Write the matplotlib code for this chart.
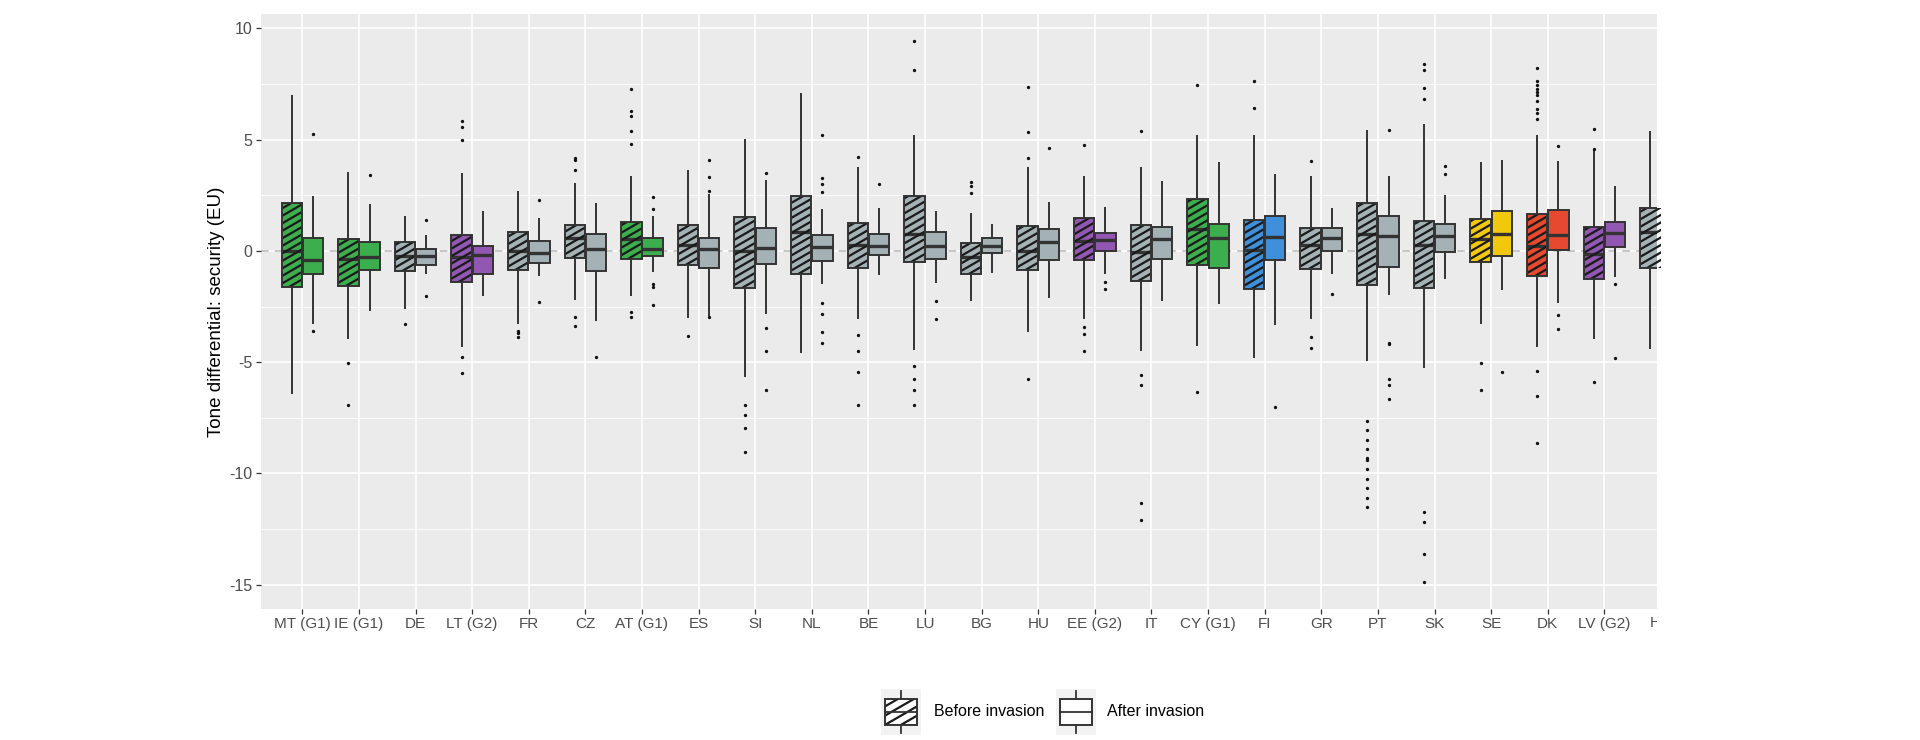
import numpy as np
import matplotlib
matplotlib.use("Agg")
import matplotlib.pyplot as plt
from matplotlib.patches import Rectangle
from matplotlib.collections import LineCollection
from matplotlib.transforms import Bbox, TransformedBbox, blended_transform_factory

plt.rcParams["font.family"] = ["Liberation Sans", "DejaVu Sans"]
plt.rcParams["axes.unicode_minus"] = False

# ---------------- data ----------------
countries = ["MT (G1)", "IE (G1)", "DE", "LT (G2)", "FR", "CZ", "AT (G1)", "ES", "SI", "NL",
             "BE", "LU", "BG", "HU", "EE (G2)", "IT", "CY (G1)", "FI", "GR", "PT",
             "SK", "SE", "DK", "LV (G2)", "HR"]
groups = ["G1", "G1", "other", "G2", "other", "other", "G1", "other", "other", "other",
          "other", "other", "other", "other", "G2", "other", "G1", "FI", "other", "other",
          "other", "SE", "DK", "G2", "other"]

# before invasion: whisker low, Q1, median, Q3, whisker high
before_lo = [-6.41, -3.96, -2.63, -4.32, -3.30, -2.20, -2.02, -3.00, -5.67, -4.58,
             -3.06, -4.46, -2.24, -3.66, -3.06, -4.51, -4.28, -4.83, -3.07, -4.94,
             -5.26, -3.27, -4.33, -3.96, -4.40]
before_q1 = [-1.62, -1.58, -0.90, -1.39, -0.85, -0.30, -0.34, -0.64, -1.67, -1.03,
             -0.75, -0.48, -1.05, -0.87, -0.41, -1.35, -0.64, -1.71, -0.83, -1.53,
             -1.65, -0.50, -1.14, -1.25, -0.75]
before_med = [0.00, -0.37, -0.23, -0.25, 0.00, 0.57, 0.52, 0.25, 0.00, 0.85,
              0.25, 0.78, -0.28, 0.00, 0.43, -0.04, 0.99, 0.04, 0.25, 0.78,
              0.25, 0.55, 0.21, -0.15, 0.86]
before_q3 = [2.15, 0.53, 0.41, 0.73, 0.87, 1.17, 1.30, 1.17, 1.53, 2.45,
             1.26, 2.49, 0.34, 1.14, 1.46, 1.17, 2.33, 1.40, 1.05, 2.15,
             1.35, 1.44, 1.67, 1.10, 1.91]
before_hi = [7.03, 3.57, 1.56, 3.52, 2.68, 3.05, 3.39, 3.66, 5.01, 7.12,
             3.77, 5.22, 1.71, 3.77, 3.37, 3.77, 5.20, 5.22, 3.36, 5.44,
             5.72, 4.00, 5.22, 4.53, 5.39]
before_out = [
    [],
    [-5.04, -6.91],
    [-3.30],
    [5.84, 5.58, 4.99, -4.78, -5.49],
    [-3.59, -3.69, -3.85],
    [4.19, 4.07, 3.62, -2.95, -3.39],
    [7.28, 6.29, 6.06, 5.40, 4.81, -2.74, -2.95],
    [-3.80],
    [-6.94, -7.39, -7.94, -9.02],
    [],
    [4.21, -3.78, -4.48, -5.44, -6.94],
    [9.43, 8.12, -5.19, -5.75, -6.25, -6.93],
    [3.09, 2.91, 2.59],
    [7.35, 5.35, 4.19, -5.75],
    [4.78, -3.41, -3.73, -4.48],
    [5.38, -5.58, -6.02, -11.33, -12.11],
    [7.44, -6.36],
    [7.62, 6.43],
    [4.03, -3.85, -4.37],
    [-7.62, -8.05, -8.49, -8.90, -9.31, -9.38, -9.82, -10.23, -10.67, -11.08, -11.51],
    [8.42, 8.12, 7.32, 6.82, -11.74, -12.18, -13.64, -14.87],
    [-5.03, -6.23],
    [8.24, 7.66, 7.44, 7.26, 7.14, 7.00, 6.73, 6.38, 6.20, 5.93, -5.40, -6.50, -8.63],
    [5.49, 4.59, -5.90],
    [],
]

# after invasion (HR's box lies outside the visible panel)
after_lo = [-3.30, -2.68, -1.05, -2.02, -1.12, -3.16, -0.96, -2.91, -2.81, -1.49,
            -1.08, -1.42, -0.99, -2.10, -1.03, -2.24, -2.38, -3.34, -1.03, -1.97,
            -1.24, -1.74, -2.33, -1.16, None]
after_q1 = [-1.05, -0.85, -0.64, -1.03, -0.55, -0.92, -0.23, -0.78, -0.59, -0.46,
            -0.16, -0.37, -0.07, -0.41, 0.02, -0.36, -0.78, -0.41, 0.00, -0.73,
            -0.04, -0.23, 0.04, 0.17, None]
after_med = [-0.41, -0.28, -0.23, -0.20, -0.07, 0.07, 0.07, 0.07, 0.14, 0.18,
             0.21, 0.21, 0.23, 0.39, 0.50, 0.53, 0.59, 0.64, 0.60, 0.66,
             0.68, 0.75, 0.71, 0.81, None]
after_q3 = [0.60, 0.41, 0.11, 0.23, 0.43, 0.78, 0.60, 0.60, 1.03, 0.73,
            0.75, 0.87, 0.59, 1.01, 0.83, 1.10, 1.23, 1.56, 1.05, 1.55,
            1.23, 1.79, 1.85, 1.32, None]
after_hi = [2.47, 2.10, 0.73, 1.81, 1.49, 2.17, 1.58, 2.56, 3.18, 1.88,
            1.94, 1.79, 1.23, 2.20, 1.97, 3.16, 4.01, 3.48, 1.95, 3.37,
            2.52, 4.09, 4.03, 2.90, None]
after_out = [
    [5.27, -3.59],
    [3.43],
    [1.37, -2.02],
    [],
    [2.29, -2.29],
    [-4.78],
    [2.43, 1.88, -1.49, -1.62, -2.42],
    [4.10, 3.32, 2.70, -2.95],
    [3.50, -3.45, -4.48, -6.27],
    [5.20, 3.30, 3.00, 2.65, -2.33, -2.82, -3.62, -4.12],
    [3.00],
    [-2.24, -3.04],
    [],
    [4.62],
    [-1.39, -1.71],
    [],
    [],
    [-7.02],
    [-1.95],
    [5.44, -4.12, -4.16, -5.75, -6.02, -6.64],
    [3.80, 3.45],
    [-5.45],
    [4.72, -2.86, -3.52],
    [-1.50, -4.81],
    [],
]

group_colors = {"G1": "#3DAE4E", "G2": "#9157B2", "other": "#A4B2B6",
                "FI": "#3F8FDA", "SE": "#F2C80C", "DK": "#E6492F"}
legend_labels = ["Before invasion", "After invasion"]

# ---------------- layout ----------------
W, H = 1920, 740
fig = plt.figure(figsize=(W / 100, H / 100), dpi=100)
px_l, px_r, px_t, px_b = 261, 1657, 14, 609
ax = fig.add_axes([px_l / W, 1 - px_b / H, (px_r - px_l) / W, (px_b - px_t) / H])
ax.set_facecolor("#EBEBEB")
for s in ax.spines.values():
    s.set_visible(False)

n = len(countries)
pos = np.arange(1, n + 1)
ax.set_xlim(0.27, 24.93)
ax.set_ylim(-16.09, 10.65)

# grid
for y in [-12.5, -7.5, -2.5, 2.5, 7.5]:
    ax.axhline(y, color="white", lw=0.6, zorder=0.5)
for y in [-15, -10, -5, 0, 5, 10]:
    ax.axhline(y, color="white", lw=1.2, zorder=0.6)
for x in pos:
    ax.axvline(x, color="white", lw=1.2, zorder=0.6)
ax.axhline(0, color="#B8B8B8", lw=1.1, ls=(0, (5, 4)), zorder=1)

ax.set_yticks([-15, -10, -5, 0, 5, 10])
ax.set_yticklabels(["-15", "-10", "-5", "0", "5", "10"])
ax.set_xticks(pos[:-1])
ax.set_xticklabels(countries[:-1])
ax.tick_params(axis="both", length=3.5, width=0.9, color="#333333",
               labelcolor="#4D4D4D", pad=2.5)
ax.tick_params(axis="x", labelsize=11)
ax.tick_params(axis="y", labelsize=11.5)
ax.set_ylabel("Tone differential: security (EU)", fontsize=13.5, color="black", labelpad=3)

# tick label for the last category, cut by the image edge
clipbox = TransformedBbox(Bbox([[0, 0], [px_r / W, 1]]), fig.transFigure)
t = ax.text(pos[-1], -0.012, countries[-1], transform=blended_transform_factory(ax.transData, ax.transAxes),
            ha="center", va="top", fontsize=11, color="#4D4D4D")
t.set_clip_on(True)
t.set_clip_box(clipbox)

BW = 0.36
OFF = 0.1875
EDGE = "#333333"


def stripes(axis, x0, x1, y0, y1, clip_patch, spacing=6.5, angle=30, lw=1.6):
    trans = axis.transData
    (p0x, p0y), (p1x, p1y) = trans.transform([(x0, y0), (x1, y1)])
    tn = np.tan(np.radians(angle))
    step = spacing / np.cos(np.radians(angle))
    w = p1x - p0x
    segs = []
    c = -w * tn - step
    while c < (p1y - p0y) + step:
        a = (p0x - 2, p0y + c - 2 * tn)
        b = (p1x + 2, p0y + c + (w + 2) * tn)
        da, db = trans.inverted().transform([a, b])
        segs.append([da, db])
        c += step
    lc = LineCollection(segs, colors="#1A1A1A", linewidths=lw, zorder=clip_patch.get_zorder() + 0.1)
    axis.add_collection(lc)
    lc.set_clip_path(clip_patch)


def draw_box(axis, x, lo, q1, med, q3, hi, outs, color, hatched):
    axis.plot([x, x], [q3, hi], color=EDGE, lw=1.4, zorder=2, solid_capstyle="butt")
    axis.plot([x, x], [lo, q1], color=EDGE, lw=1.4, zorder=2, solid_capstyle="butt")
    r = Rectangle((x - BW / 2, q1), BW, q3 - q1, facecolor=color, edgecolor="none", zorder=3)
    axis.add_patch(r)
    axis.plot([x - BW / 2, x + BW / 2], [med, med], color=EDGE, lw=2.4, zorder=3.05,
              solid_capstyle="butt")
    if hatched:
        stripes(axis, x - BW / 2, x + BW / 2, q1, q3, r)
    axis.add_patch(Rectangle((x - BW / 2, q1), BW, q3 - q1, facecolor="none",
                             edgecolor=EDGE, lw=1.4, zorder=3.3))
    if outs:
        axis.plot([x] * len(outs), outs, "o", ms=2.4, color="#111111", mec="none", zorder=4)


for i in range(n):
    col = group_colors[groups[i]]
    draw_box(ax, pos[i] - OFF, before_lo[i], before_q1[i], before_med[i], before_q3[i],
             before_hi[i], before_out[i], col, True)
    if after_q1[i] is not None:
        draw_box(ax, pos[i] + OFF, after_lo[i], after_q1[i], after_med[i], after_q3[i],
                 after_hi[i], after_out[i], col, False)

# ---------------- legend ----------------
key_y0, key_y1 = 689, 735
keys = [(881, 921), (1056, 1096)]
text_x = [934, 1107]
for k, ((kx0, kx1), lab) in enumerate(zip(keys, legend_labels)):
    kax = fig.add_axes([kx0 / W, 1 - key_y1 / H, (kx1 - kx0) / W, (key_y1 - key_y0) / H])
    kax.set_xlim(0, 1)
    kax.set_ylim(0, 1)
    kax.set_facecolor("#F2F2F2")
    kax.set_xticks([])
    kax.set_yticks([])
    for s in kax.spines.values():
        s.set_visible(False)
    kax.plot([0.5, 0.5], [0.05, 0.22], color=EDGE, lw=1.3)
    kax.plot([0.5, 0.5], [0.78, 0.95], color=EDGE, lw=1.3)
    r = Rectangle((0.1, 0.22), 0.8, 0.56, facecolor="white", edgecolor="none", zorder=2)
    kax.add_patch(r)
    kax.plot([0.1, 0.9], [0.5, 0.5], color=EDGE, lw=1.3, zorder=2.5)
    if k == 0:
        stripes(kax, 0.1, 0.9, 0.22, 0.78, r, spacing=8, angle=30, lw=1.6)
    kax.add_patch(Rectangle((0.1, 0.22), 0.8, 0.56, facecolor="none", edgecolor=EDGE,
                            lw=1.4, zorder=3))
    fig.text(text_x[k] / W, 1 - 711 / H, lab, fontsize=11.5, color="black", va="center", ha="left")

fig.savefig("out.png", dpi=100, facecolor="white")
